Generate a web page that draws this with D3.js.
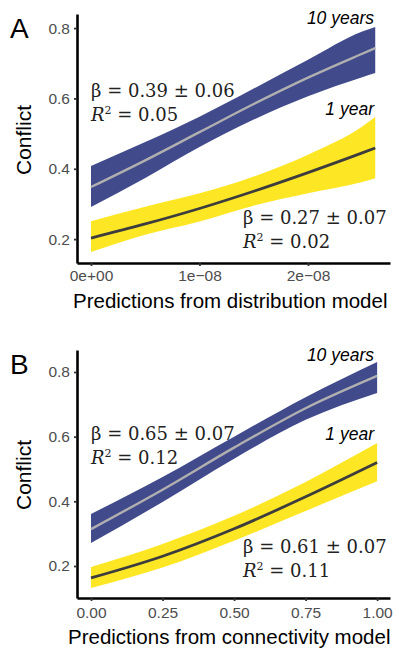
<!DOCTYPE html>
<html>
<head>
<meta charset="utf-8">
<script src="https://cdn.jsdelivr.net/npm/d3@7"></script>
<style>
  body { margin: 0; background: #fff; }
  svg { display: block; }
</style>
</head>
<body>
<svg id="chart"></svg>
<script>
// panel A - distribution model (x in units of 1e-08)
var xA = [0, 0.5e-8, 1e-8, 1.5e-8, 2e-8, 2.5e-8, 2.62e-8];
var tenFitA = [0.348, 0.424, 0.504, 0.584, 0.659, 0.727, 0.743];
var tenLoA  = [0.291, 0.374, 0.462, 0.540, 0.606, 0.660, 0.672];
var tenHiA  = [0.408, 0.476, 0.548, 0.628, 0.710, 0.790, 0.803];
var oneFitA = [0.203, 0.243, 0.287, 0.336, 0.389, 0.445, 0.459];
var oneLoA  = [0.163, 0.212, 0.250, 0.295, 0.330, 0.362, 0.373];
var oneHiA  = [0.251, 0.292, 0.330, 0.378, 0.440, 0.520, 0.547];
var xTicksA = [0, 1e-8, 2e-8];
var xTickLabelsA = ['0e+00', '1e\u221208', '2e\u221208'];

// panel B - connectivity model
var xB = [0, 0.25, 0.5, 0.75, 1];
var tenFitB = [0.314, 0.436, 0.566, 0.688, 0.788];
var tenLoB  = [0.271, 0.398, 0.532, 0.652, 0.735];
var tenHiB  = [0.361, 0.475, 0.600, 0.722, 0.831];
var oneFitB = [0.163, 0.230, 0.315, 0.414, 0.520];
var oneLoB  = [0.132, 0.195, 0.278, 0.370, 0.462];
var oneHiB  = [0.197, 0.268, 0.355, 0.460, 0.580];
var xTicksB = [0, 0.25, 0.5, 0.75, 1];
var xTickLabelsB = ['0.00', '0.25', '0.50', '0.75', '1.00'];

var yTicks = [0.2, 0.4, 0.6, 0.8];
var yTickLabels = ['0.2', '0.4', '0.6', '0.8'];

var svgWidth = 399, svgHeight = 652;
var blue = '#414a8b', yellow = '#fde725';
var sans = 'Liberation Sans, Arial, sans-serif';

var svg = d3.select('#chart')
  .attr('width', svgWidth)
  .attr('height', svgHeight);

function drawPanel(p) {
  var g = svg.append('g');

  var x = d3.scaleLinear().domain(p.xDomain).range([77, 390]);
  var y = d3.scaleLinear().domain(p.yDomain).range([p.bottom, p.top]);

  function band(xs, lo, hi, color) {
    var area = d3.area()
      .x(function(d, i) { return x(xs[i]); })
      .y0(function(d, i) { return y(lo[i]); })
      .y1(function(d, i) { return y(hi[i]); })
      .curve(d3.curveMonotoneX);
    g.append('path').datum(xs).attr('d', area).attr('fill', color);
  }
  function fit(xs, ys, color, w) {
    var line = d3.line()
      .x(function(d, i) { return x(xs[i]); })
      .y(function(d, i) { return y(ys[i]); })
      .curve(d3.curveMonotoneX);
    g.append('path').datum(xs).attr('d', line)
      .attr('fill', 'none').attr('stroke', color).attr('stroke-width', w);
  }

  band(p.xs, p.tenLo, p.tenHi, blue);
  fit(p.xs, p.tenFit, '#b0b0b0', 2.4);
  band(p.xs, p.oneLo, p.oneHi, yellow);
  fit(p.xs, p.oneFit, '#3d3d3d', 2.8);

  // axes
  var yAxis = g.append('g')
    .attr('transform', 'translate(77,0)')
    .call(d3.axisLeft(y).tickValues(yTicks)
      .tickFormat(function(d, i) { return yTickLabels[i]; })
      .tickSize(3).tickSizeOuter(0).tickPadding(4));
  var xAxis = g.append('g')
    .attr('transform', 'translate(0,' + p.bottom + ')')
    .call(d3.axisBottom(x).tickValues(p.xTicks)
      .tickFormat(function(d, i) { return p.xTickLabels[i]; })
      .tickSize(3).tickSizeOuter(0).tickPadding(p.xPad));
  [yAxis, xAxis].forEach(function(a) {
    a.attr('font-size', 15.5).attr('font-family', sans);
    a.select('.domain').attr('stroke', '#000').attr('stroke-width', 2.6);
    a.selectAll('.tick line').attr('stroke', '#333').attr('stroke-width', 1.8);
    a.selectAll('.tick text').attr('fill', '#4d4d4d');
  });

  // panel letter
  g.append('text').attr('x', 10).attr('y', p.top + 24)
    .style('font-family', sans)
    .style('font-size', '28px').text(p.letter);

  // axis titles
  g.append('text')
    .attr('transform', 'translate(31,' + p.yMid + ') rotate(-90)')
    .attr('text-anchor', 'middle')
    .style('font-family', sans)
    .style('font-size', '21px').text('Conflict');
  g.append('text')
    .attr('x', p.xTitleX).attr('y', p.xTitleY)
    .style('font-family', sans)
    .style('font-size', '20.5px').text(p.xTitle);

  // series labels
  [[p.tenLabelY, '10 years'], [p.oneLabelY, '1 year']].forEach(function(l) {
    g.append('text').attr('x', 374).attr('y', l[0])
      .attr('text-anchor', 'end')
      .style('font-family', sans)
      .style('font-style', 'italic').style('font-size', '17.5px')
      .text(l[1]);
  });

  // equations
  p.eqs.forEach(function(e) {
    g.append('text')
      .style('font-family', 'DejaVu Serif, serif')
      .style('font-size', '18px').attr('fill', '#222')
      .attr('x', e.x).attr('y', e.y)
      .text('\u03b2 = ' + e.beta + ' \u00b1 ' + e.se);
    var r = g.append('text')
      .style('font-family', 'DejaVu Serif, serif')
      .style('font-size', '18px').attr('fill', '#222')
      .attr('x', e.x).attr('y', e.y + 24);
    r.append('tspan').style('font-style', 'italic').text('R');
    r.append('tspan').attr('dy', -7).style('font-size', '11px').text('2');
    r.append('tspan').attr('dy', 7).text(' = ' + e.r2);
  });
}

drawPanel({
  letter: 'A', top: 14, bottom: 263, yMid: 140,
  xDomain: [-0.129e-8, 2.756e-8], yDomain: [0.132, 0.84],
  xs: xA, tenFit: tenFitA, tenLo: tenLoA, tenHi: tenHiA,
  oneFit: oneFitA, oneLo: oneLoA, oneHi: oneHiA,
  xTicks: xTicksA, xTickLabels: xTickLabelsA, xPad: 4,
  xTitle: 'Predictions from distribution model', xTitleX: 73, xTitleY: 308,
  tenLabelY: 24, oneLabelY: 115,
  eqs: [{x: 91, y: 97, beta: '0.39', se: '0.06', r2: '0.05'},
        {x: 243, y: 224, beta: '0.27', se: '0.07', r2: '0.02'}]
});

drawPanel({
  letter: 'B', top: 350, bottom: 598, yMid: 475,
  xDomain: [-0.049, 1.045], yDomain: [0.101, 0.868],
  xs: xB, tenFit: tenFitB, tenLo: tenLoB, tenHi: tenHiB,
  oneFit: oneFitB, oneLo: oneLoB, oneHi: oneHiB,
  xTicks: xTicksB, xTickLabels: xTickLabelsB, xPad: 6,
  xTitle: 'Predictions from connectivity model', xTitleX: 68, xTitleY: 644,
  tenLabelY: 361, oneLabelY: 440,
  eqs: [{x: 91, y: 440, beta: '0.65', se: '0.07', r2: '0.12'},
        {x: 243, y: 553, beta: '0.61', se: '0.07', r2: '0.11'}]
});
</script>
</body>
</html>
